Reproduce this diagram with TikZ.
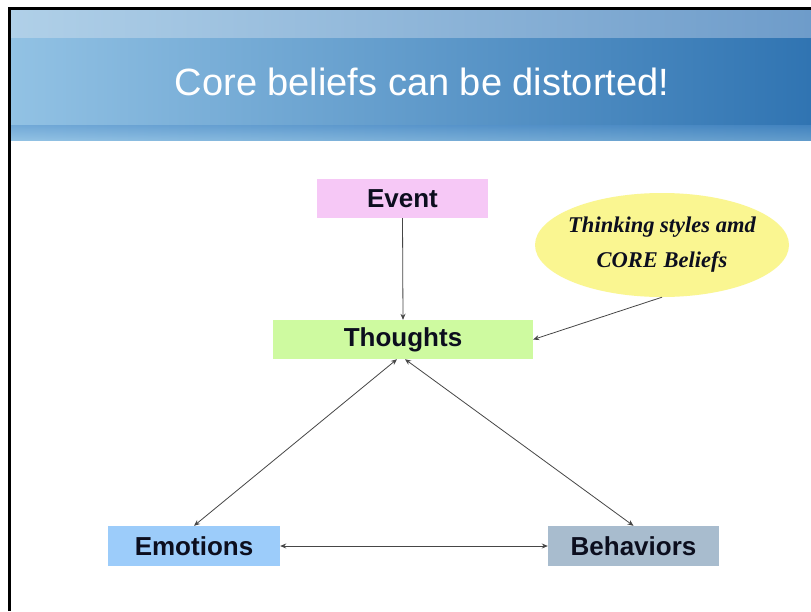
\documentclass[tikz,border=0pt]{standalone}
\usepackage{fontspec}
\setmainfont{Liberation Sans}
\newfontfamily\serifit{Liberation Serif}
\usetikzlibrary{shapes.geometric,arrows.meta}
\definecolor{eventpink}{RGB}{246,200,246}
\definecolor{thoughtgreen}{RGB}{206,250,160}
\definecolor{emoblue}{RGB}{156,204,250}
\definecolor{behgrey}{RGB}{168,188,206}
\definecolor{ellyellow}{RGB}{250,246,145}
\definecolor{textdark}{RGB}{12,14,30}
\definecolor{connc}{RGB}{70,70,70}
\definecolor{hdlightL}{RGB}{176,208,232}
\definecolor{hdlightR}{RGB}{110,156,202}
\definecolor{hdL}{RGB}{146,194,228}
\definecolor{hdM}{RGB}{84,146,204}
\definecolor{hdR}{RGB}{48,116,178}
\begin{document}
\begin{tikzpicture}[x=1pt,y=-1pt,
  box/.style={rectangle, inner sep=0pt, font=\fontsize{26}{30}\selectfont\bfseries, text=textdark},
  conn/.style={draw=connc, line width=0.8pt, -{Stealth[length=6pt,width=5pt]}},
  dconn/.style={draw=connc, line width=0.8pt, {Stealth[length=6pt,width=5pt]}-{Stealth[length=6pt,width=5pt]}}
  ]
\useasboundingbox (0,0) rectangle (811,611);
\fill[white] (0,0) rectangle (811,611);
% header band
\shade[left color=hdL, middle color=hdM, right color=hdR] (9,37) rectangle (811,140);
\shade[left color=hdlightL, right color=hdlightR] (9,9) rectangle (811,37);
\shade[top color=hdM, bottom color=hdL, opacity=0.5] (9,125) rectangle (811,140);
% frame
\draw[line width=3pt] (9,611) -- (9,8) -- (811,8);
% title
\node[text=white, font=\fontsize{38}{40}\selectfont] (title) at (422,82) {Core beliefs can be distorted!};
% nodes
\node[box, fill=eventpink, minimum width=171pt, minimum height=39pt] (event) at (402.5,198.5) {Event};
\node[box, fill=thoughtgreen, minimum width=260pt, minimum height=39pt] (thoughts) at (403,339.5) {Thoughts};
\node[box, fill=emoblue, minimum width=172pt, minimum height=40pt] (emotions) at (194,546) {Emotions};
\node[box, fill=behgrey, minimum width=171pt, minimum height=40pt] (behaviors) at (633.5,546) {Behaviors};
\node[ellipse, fill=ellyellow, minimum width=254pt, minimum height=104pt, inner sep=0pt] (beliefs) at (662,245) {};
\node[align=center, text=textdark, inner sep=0pt,
  font=\serifit\bfseries\itshape\fontsize{22.5}{35}\selectfont] (beliefstext) at (beliefs.center) {Thinking styles amd\\CORE Beliefs};
% connectors
\draw[conn] (event.south) -- (thoughts.north);
\draw[conn] (beliefs.south) -- (thoughts.east);
\draw[dconn] ([xshift=-6pt]thoughts.south) -- (emotions.north);
\draw[dconn] ([xshift=2pt]thoughts.south) -- (behaviors.north);
\draw[dconn] (emotions.east) -- (behaviors.west);
\end{tikzpicture}
\end{document}
